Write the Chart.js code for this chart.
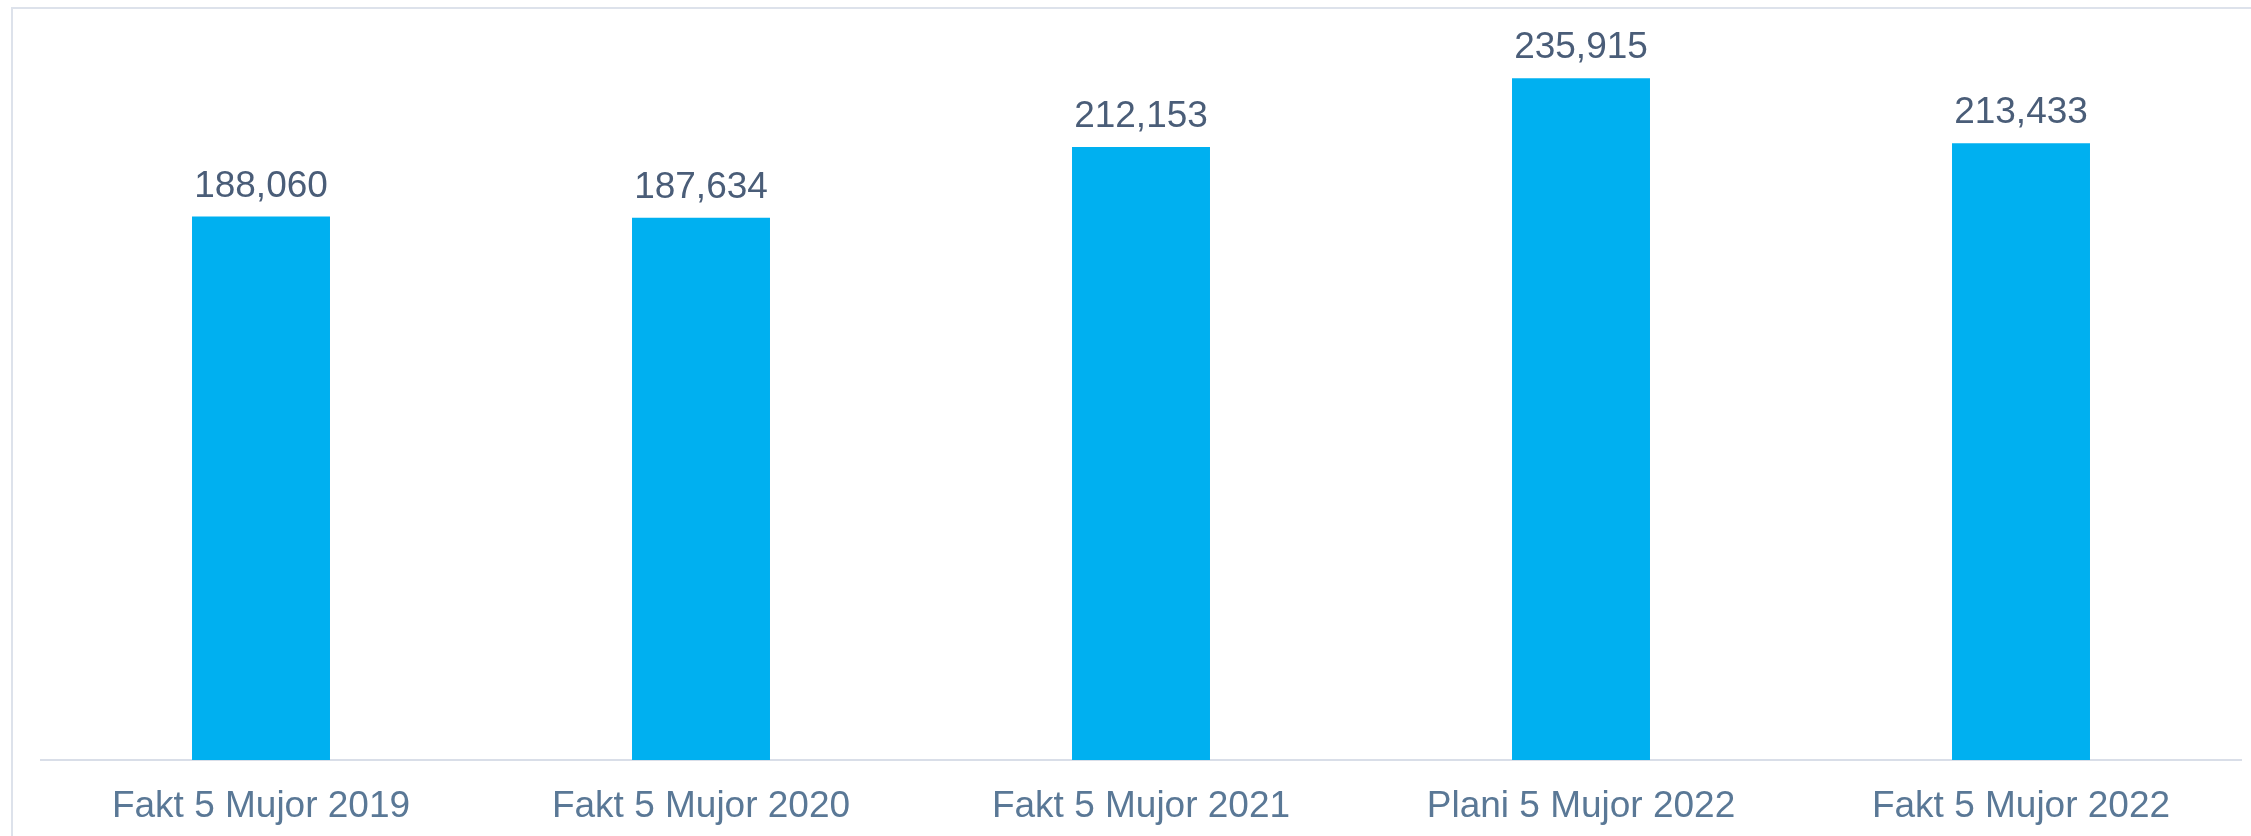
<!DOCTYPE html>
<html>
<head>
<meta charset="utf-8">
<script src="https://cdn.jsdelivr.net/npm/chart.js@4.4.0/dist/chart.umd.min.js"></script>
<style>
  html, body { margin: 0; padding: 0; background: #ffffff; }
  .wrap { position: relative; width: 2251px; height: 836px; overflow: hidden; }
  .frame { position: absolute; left: 11px; top: 7px; width: 2300px; height: 900px;
           border-top: 2px solid #dde2eb; border-left: 2px solid #dde2eb; }
  canvas { position: absolute; left: 0; top: 0; }
</style>
</head>
<body>
<div class="wrap">
  <div class="frame"></div>
  <canvas id="barChart" width="2251" height="836"></canvas>
</div>
<script>
const categories = ['Fakt 5 Mujor 2019', 'Fakt 5 Mujor 2020', 'Fakt 5 Mujor 2021', 'Plani 5 Mujor 2022', 'Fakt 5 Mujor 2022'];
const values = [188060, 187634, 212153, 235915, 213433];
const axisMax = 250000;

// value labels above each bar
const barLabels = {
    id: 'barLabels',
    afterDatasetsDraw(chart) {
        const ctx = chart.ctx;
        const meta = chart.getDatasetMeta(0);
        ctx.save();
        ctx.font = '37px "Liberation Sans", Arial, sans-serif';
        ctx.fillStyle = '#4a5d78';
        ctx.textAlign = 'center';
        ctx.textBaseline = 'alphabetic';
        meta.data.forEach(function (bar, i) {
            ctx.fillText(values[i].toLocaleString('en-US'), bar.x, bar.y - 20);
        });
        ctx.restore();
    }
};

const ctx = document.getElementById('barChart').getContext('2d');
const barChart = new Chart(ctx, {
    type: 'bar',
    data: {
        labels: categories,
        datasets: [{
            data: values,
            backgroundColor: '#00b0f0',
            borderWidth: 0,
            categoryPercentage: 1,
            barPercentage: 0.3136
        }]
    },
    options: {
        responsive: false,
        animation: false,
        layout: { padding: { top: 37.5, left: 41, right: 10, bottom: 0 } },
        plugins: {
            legend: { display: false },
            tooltip: { enabled: false }
        },
        scales: {
            x: {
                grid: { display: false, drawTicks: false },
                border: { display: true, color: '#d9dee8', width: 2 },
                ticks: {
                    padding: 25,
                    color: '#5a7896',
                    font: { family: '"Liberation Sans", Arial, sans-serif', size: 37 },
                    maxRotation: 0
                },
                afterFit(scale) { scale.height = 76; }
            },
            y: {
                display: false,
                min: 0,
                max: axisMax
            }
        }
    },
    plugins: [barLabels]
});
</script>
</body>
</html>
